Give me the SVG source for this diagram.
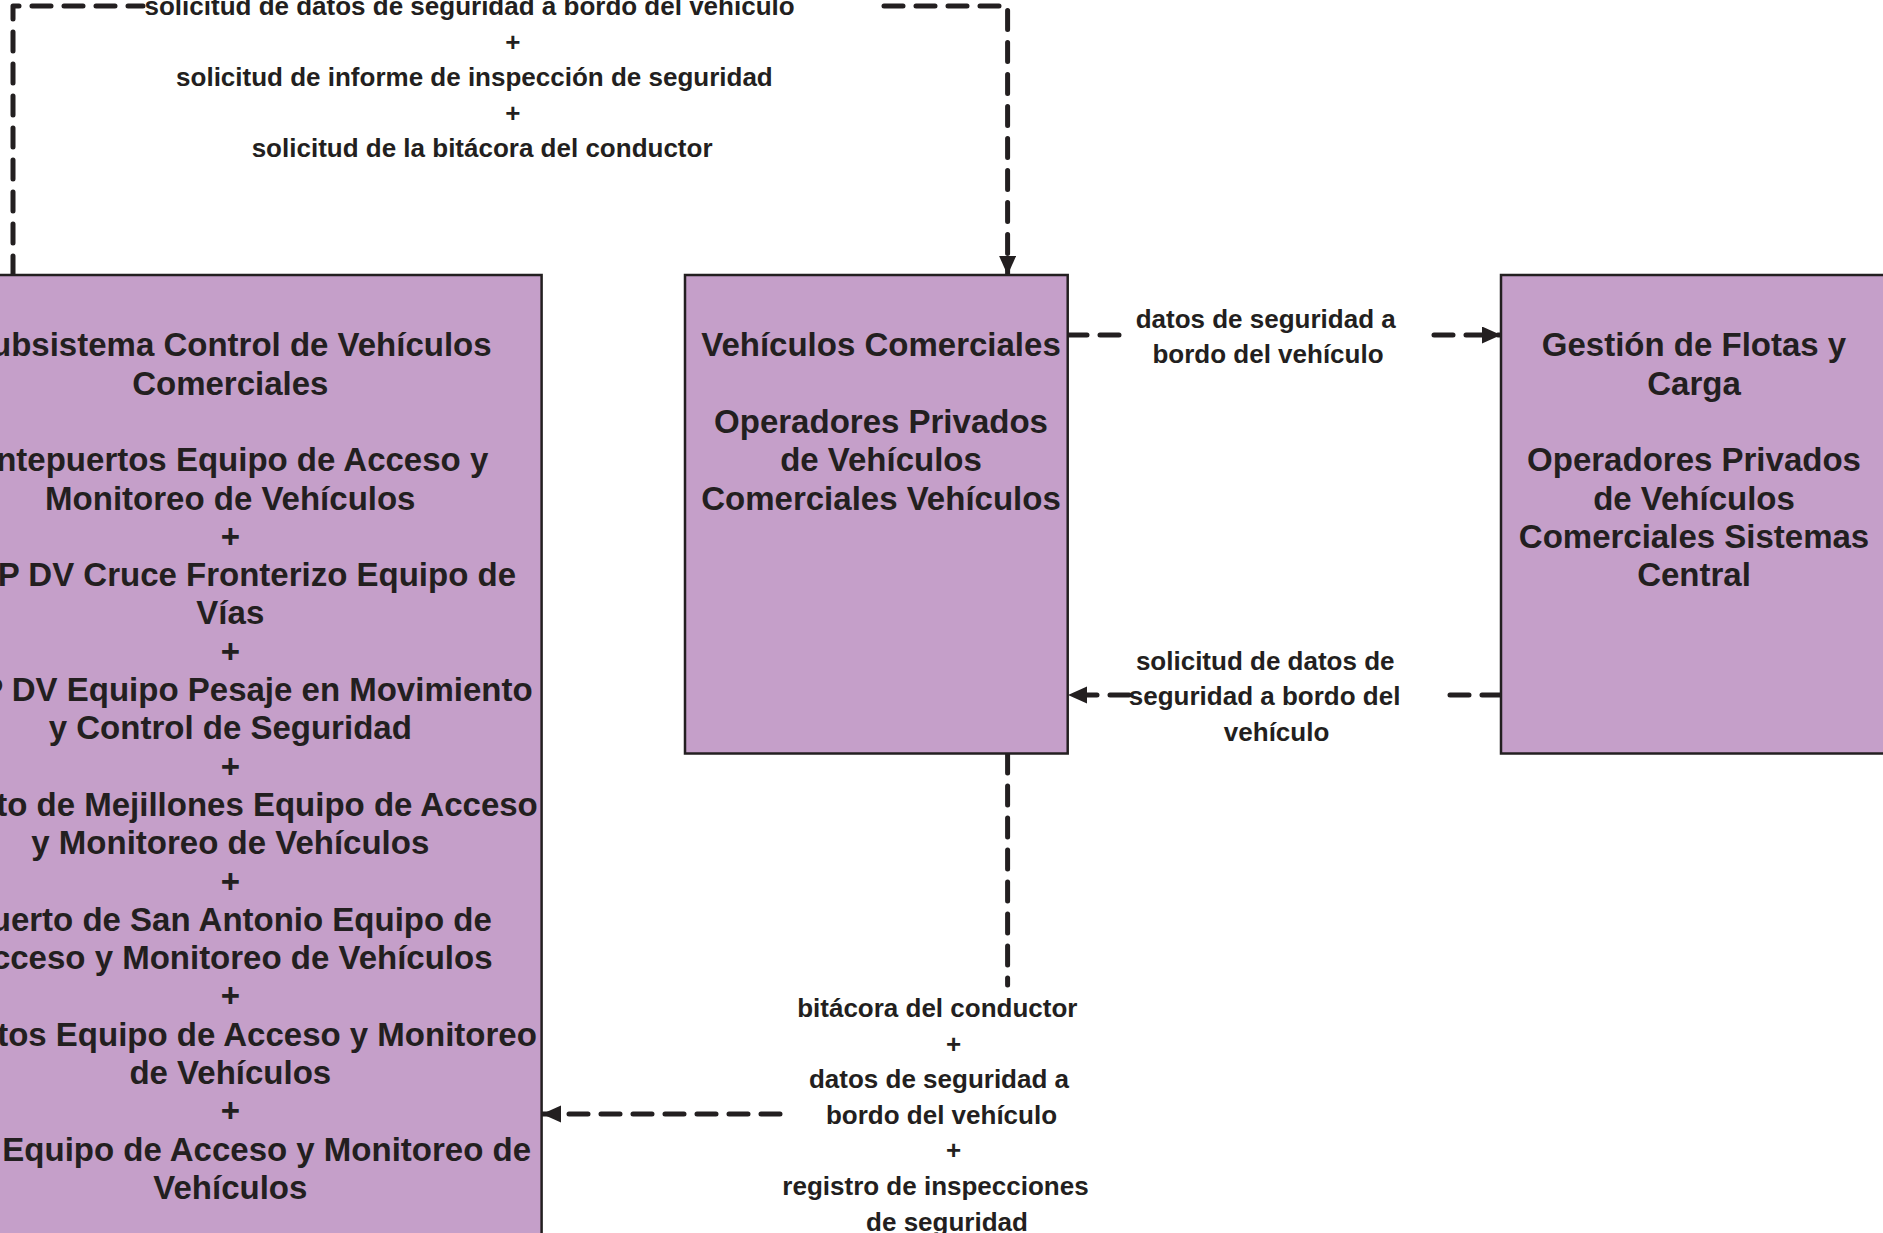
<svg xmlns="http://www.w3.org/2000/svg" width="1883" height="1233" viewBox="0 0 1883 1233">
<style>
.box{fill:#C59FC9;stroke:#231F20;stroke-width:2.5}
.nt{font-family:"Liberation Sans",Arial,sans-serif;font-weight:bold;font-size:33px;fill:#231F20;text-anchor:middle}
.lt{font-family:"Liberation Sans",Arial,sans-serif;font-weight:bold;font-size:26px;fill:#231F20;text-anchor:middle}
.cn{fill:none;stroke:#231F20;stroke-width:5;stroke-dasharray:19 13;stroke-linecap:round;stroke-linejoin:round}
</style>
<defs>
<marker id="ah" markerUnits="userSpaceOnUse" markerWidth="22" markerHeight="20" refX="19" refY="8.5" orient="auto" viewBox="0 0 22 20">
<path d="M0,0 L19,8.5 L0,17 z" fill="#231F20"/>
</marker>
</defs>
<rect width="1883" height="1233" fill="#FFFFFF"/>
<g id="connectors">
<path class="cn" d="M13,275 V6 H143 M884,6 H1007.6 V275" marker-end="url(#ah)"/>
<path class="cn" d="M1068,335 H1131 M1434,335 H1501" marker-end="url(#ah)"/>
<path class="cn" d="M1501,695 H1447 M1129,695 H1068" marker-end="url(#ah)"/>
<path class="cn" d="M1007.6,754 V985 M780,1114 H542" marker-end="url(#ah)"/>
<g id="label-top">
<text class="lt" x="469.6" y="15.3">solicitud de datos de seguridad a bordo del vehículo</text>
<text class="lt" x="512.8" y="50.7">+</text>
<text class="lt" x="474.4" y="86.1">solicitud de informe de inspección de seguridad</text>
<text class="lt" x="512.8" y="121.5">+</text>
<text class="lt" x="482.1" y="157">solicitud de la bitácora del conductor</text>
</g>
<g id="label-mid-right">
<text class="lt" x="1265.7" y="327.5">datos de seguridad a</text>
<text class="lt" x="1268" y="363.3">bordo del vehículo</text>
</g>
<g id="label-right-mid">
<text class="lt" x="1265.2" y="669.5">solicitud de datos de</text>
<text class="lt" x="1264.6" y="705">seguridad a bordo del</text>
<text class="lt" x="1276.6" y="740.5">vehículo</text>
</g>
<g id="label-bottom">
<text class="lt" x="937.3" y="1017">bitácora del conductor</text>
<text class="lt" x="953.5" y="1052.6">+</text>
<text class="lt" x="939" y="1088.2">datos de seguridad a</text>
<text class="lt" x="941.5" y="1123.8">bordo del vehículo</text>
<text class="lt" x="953.5" y="1159.4">+</text>
<text class="lt" x="935.5" y="1195">registro de inspecciones</text>
<text class="lt" x="947" y="1230.6">de seguridad</text>
</g>
</g>
<g id="node-subsistema">
<rect class="box" x="-81" y="275" width="622.6" height="1000"/>
<text class="nt" x="230.3" y="356.3">Subsistema Control de Vehículos</text>
<text class="nt" x="230.3" y="394.6">Comerciales</text>
<text class="nt" x="230.3" y="471.2">Antepuertos Equipo de Acceso y</text>
<text class="nt" x="230.3" y="509.5">Monitoreo de Vehículos</text>
<text class="nt" x="230.3" y="547.8">+</text>
<text class="nt" x="230.3" y="586.1">MOP DV Cruce Fronterizo Equipo de</text>
<text class="nt" x="230.3" y="624.4">Vías</text>
<text class="nt" x="230.3" y="662.7">+</text>
<text class="nt" x="230.3" y="701">MOP DV Equipo Pesaje en Movimiento</text>
<text class="nt" x="230.3" y="739.3">y Control de Seguridad</text>
<text class="nt" x="230.3" y="777.6">+</text>
<text class="nt" x="230.3" y="815.9">Puerto de Mejillones Equipo de Acceso</text>
<text class="nt" x="230.3" y="854.2">y Monitoreo de Vehículos</text>
<text class="nt" x="230.3" y="892.5">+</text>
<text class="nt" x="230.3" y="930.8">Puerto de San Antonio Equipo de</text>
<text class="nt" x="230.3" y="969.1">Acceso y Monitoreo de Vehículos</text>
<text class="nt" x="230.3" y="1007.4">+</text>
<text class="nt" x="230.3" y="1045.7">Puertos Equipo de Acceso y Monitoreo</text>
<text class="nt" x="230.3" y="1084">de Vehículos</text>
<text class="nt" x="230.3" y="1122.3">+</text>
<text class="nt" x="531" y="1160.6" style="text-anchor:end">Equipo de Acceso y Monitoreo de</text>
<text class="nt" x="230.3" y="1198.9">Vehículos</text>
</g>
<g id="node-vehiculos">
<rect class="box" x="685" y="275" width="382.7" height="478.5"/>
<text class="nt" x="881" y="356.3">Vehículos Comerciales</text>
<text class="nt" x="881" y="432.9">Operadores Privados</text>
<text class="nt" x="881" y="471.2">de Vehículos</text>
<text class="nt" x="881" y="509.5">Comerciales Vehículos</text>
</g>
<g id="node-gestion">
<rect class="box" x="1501" y="275" width="386" height="478.5"/>
<text class="nt" x="1694" y="356.3">Gestión de Flotas y</text>
<text class="nt" x="1694" y="394.6">Carga</text>
<text class="nt" x="1694" y="471.2">Operadores Privados</text>
<text class="nt" x="1694" y="509.5">de Vehículos</text>
<text class="nt" x="1694" y="547.8">Comerciales Sistemas</text>
<text class="nt" x="1694" y="586.1">Central</text>
</g>
</svg>
